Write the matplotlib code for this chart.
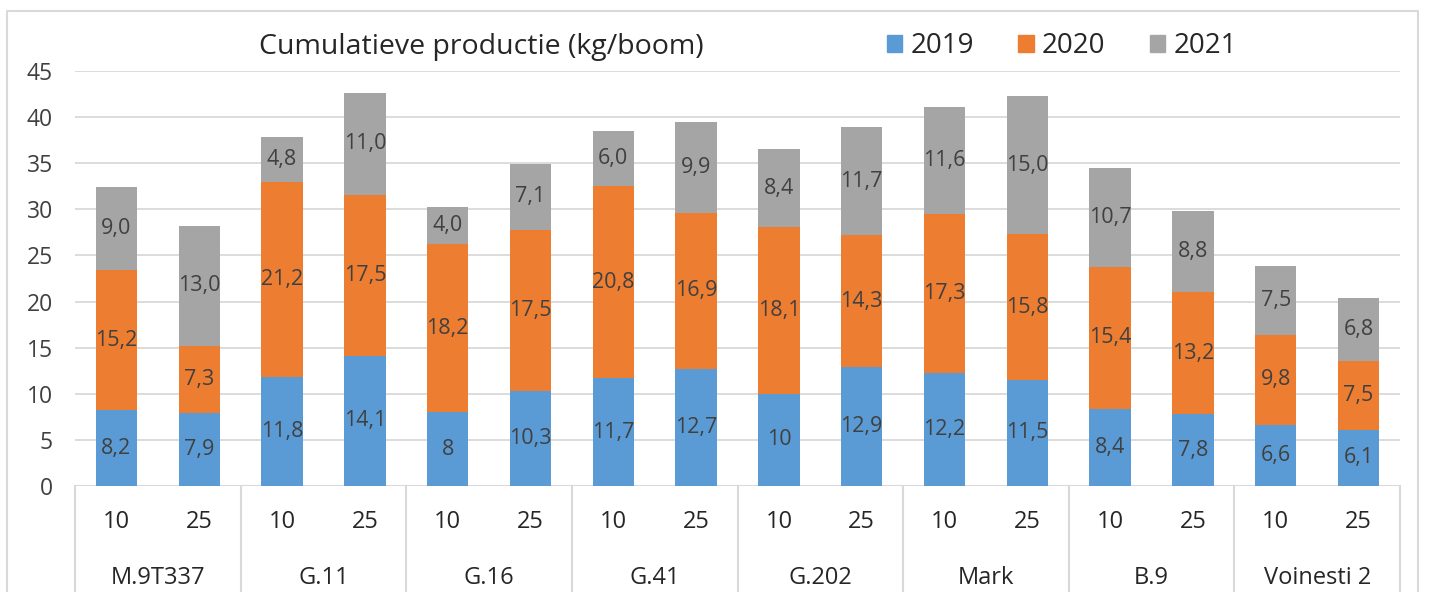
import numpy as np
import matplotlib.pyplot as plt
from matplotlib.lines import Line2D

# data
groups = ["M.9T337", "G.11", "G.16", "G.41", "G.202", "Mark", "B.9", "Voinesti 2"]
distances = ["10", "25"]
years = ["2019", "2020", "2021"]
v2019 = [8.2, 7.9, 11.8, 14.1, 8, 10.3, 11.7, 12.7, 10, 12.9, 12.2, 11.5, 8.4, 7.8, 6.6, 6.1]
v2020 = [15.2, 7.3, 21.2, 17.5, 18.2, 17.5, 20.8, 16.9, 18.1, 14.3, 17.3, 15.8, 15.4, 13.2, 9.8, 7.5]
v2021 = [9.0, 13.0, 4.8, 11.0, 4.0, 7.1, 6.0, 9.9, 8.4, 11.7, 11.6, 15.0, 10.7, 8.8, 7.5, 6.8]
colors = ["#5B9BD5", "#ED7D31", "#A5A5A5"]

plt.rcParams["font.family"] = ["Open Sans", "DejaVu Sans"]
txt = "#404040"

fig = plt.figure(figsize=(14.32, 5.92), dpi=100)
ax = fig.add_axes([75 / 1432, 106 / 592, 1325 / 1432, 415 / 592])

x = np.arange(len(v2019))
bottom = np.zeros(len(x))
series = [v2019, v2020, v2021]
for i, vals in enumerate(series):
    vals = np.array(vals, dtype=float)
    ax.bar(x, vals, 0.5, bottom=bottom, color=colors[i], zorder=2)
    for xi, b, v in zip(x, bottom, vals):
        if i == 0:
            lab = ("%g" % v).replace(".", ",")
        else:
            lab = ("%.1f" % v).replace(".", ",")
        ax.text(xi, b + v / 2, lab, ha="center", va="center", fontsize=15.5, color=txt, zorder=3)
    bottom += vals

ax.set_xlim(-0.5, len(x) - 0.5)
ax.set_ylim(0, 45)
ax.set_yticks(range(0, 50, 5))
ax.yaxis.grid(True, color="#D9D9D9", lw=1.3, zorder=0)
ax.tick_params(axis="y", length=0, pad=16, labelsize=16.5, labelcolor=txt)
ax.set_xticks([])
for s in ax.spines.values():
    s.set_visible(False)
ax.axhline(0, color="#D9D9D9", lw=1.5, zorder=1)

# two-level category axis
tr = ax.get_xaxis_transform()
for xi in x:
    ax.text(xi, -36 / 415, distances[xi % 2], ha="center", va="center",
            fontsize=17, color="#262626", transform=tr, clip_on=False)
for g, name in enumerate(groups):
    ax.text(2 * g + 0.5, -92 / 415, name, ha="center", va="center",
            fontsize=17, color="#262626", transform=tr, clip_on=False)
for b in np.arange(-0.5, len(x), 2):
    ax.add_line(Line2D([b, b], [0, -0.4], transform=tr, color="#D9D9D9",
                       lw=1.5, clip_on=False))

# title and legend inside chart area
fig.text(481 / 1432, 1 - 47 / 592, "Cumulatieve productie (kg/boom)", ha="center",
         va="center", fontsize=20.5, color="#262626")
handles = [plt.Rectangle((0, 0), 1, 1, color=c) for c in colors]
fig.legend(handles, years, loc="center", bbox_to_anchor=(1062 / 1432, 1 - 46 / 592),
           ncol=3, frameon=False, fontsize=20, handlelength=0.55, handleheight=0.55,
           handletextpad=0.3, columnspacing=1.6, labelcolor="#262626")

# outer chart border
fig.add_artist(Line2D([7 / 1432, 7 / 1432, 1418 / 1432, 1418 / 1432],
                      [-0.1, 1 - 11 / 592, 1 - 11 / 592, -0.1],
                      transform=fig.transFigure, color="#D9D9D9", lw=1.5))

fig.savefig("out.png", dpi=100)
